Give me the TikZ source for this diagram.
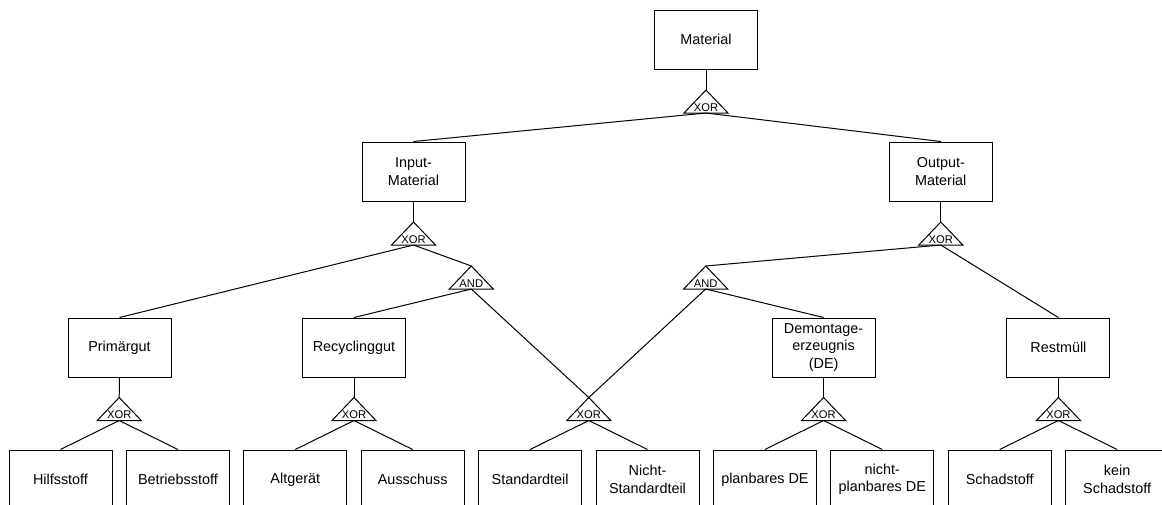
\documentclass[tikz,border=0pt]{standalone}
\usepackage{fontspec}
\setmainfont{Liberation Sans}
\tikzset{
  ln/.style={draw=black, line width=0.75pt, line join=miter},
  box/.style={draw=black, line width=0.75pt, minimum width=77.25pt, minimum height=44.25pt,
    inner sep=0pt, align=center, font=\fontsize{10.8}{13}\selectfont},
  gtxt/.style={anchor=base, inner sep=0pt, font=\fontsize{8.4}{10}\selectfont}
}
\newcommand\gate[4]{%
  \coordinate (#1t) at (#2,#3);
  \coordinate (#1b) at (#2,#3+23);
  \draw[ln] (#2,#3) -- (#2-22,#3+23) -- (#2+22,#3+23) -- cycle;
  \node[gtxt] (#1) at (#2,#3+21) {#4};
}
\begin{document}
\begin{tikzpicture}[x=0.75pt,y=-0.75pt]
\useasboundingbox (0,0) rectangle (1162,504);
\clip (0,0) rectangle (1162,504);
% boxes
\node[box] (mat) at (706,39.5) {Material};
\node[box] (inp) at (413.5,171.5) {Input-\\Material};
\node[box] (out) at (940.8,171.5) {Output-\\Material};
\node[box] (prim) at (119.5,347.5) {Primärgut};
\node[box] (rec) at (354,347.5) {Recyclinggut};
\node[box] (dem) at (823.6,347.5) {Demontage-\\erzeugnis\\(DE)};
\node[box] (rest) at (1058.4,347.5) {Restmüll};
\node[box] (b1) at (60.5,479.5) {Hilfsstoff};
\node[box] (b2) at (177.9,479.5) {Betriebsstoff};
\node[box] (b3) at (295.3,479.5) {Altgerät};
\node[box] (b4) at (412.7,479.5) {Ausschuss};
\node[box] (b5) at (530.1,479.5) {Standardteil};
\node[box] (b6) at (647.5,479.5) {Nicht-\\Standardteil};
\node[box] (b7) at (764.9,479.5) {planbares DE};
\node[box] (b8) at (882.3,479.5) {nicht-\\planbares DE};
\node[box] (b9) at (999.7,479.5) {Schadstoff};
\node[box] (b10) at (1117.1,479.5) {kein\\Schadstoff};
% gates
\gate{g0}{706}{90}{XOR}
\gate{gi}{413.5}{222}{XOR}
\gate{go}{940.8}{222}{XOR}
\gate{ai}{471.3}{266}{AND}
\gate{ao}{705.7}{266}{AND}
\gate{gp}{119.2}{397.5}{XOR}
\gate{gr}{354}{397.5}{XOR}
\gate{gs}{588.8}{397.5}{XOR}
\gate{gd}{823.6}{397.5}{XOR}
\gate{gm}{1058.4}{397.5}{XOR}
% connectors
\draw[ln] (mat.south) -- (g0t);
\draw[ln] (g0b) -- (inp.north);
\draw[ln] (g0b) -- (out.north);
\draw[ln] (inp.south) -- (git);
\draw[ln] (out.south) -- (got);
\draw[ln] (gib) -- (prim.north);
\draw[ln] (gib) -- (ait);
\draw[ln] (aib) -- (rec.north);
\draw[ln] (aib) -- (gst);
\draw[ln] (gob) -- (aot);
\draw[ln] (gob) -- (rest.north);
\draw[ln] (aob) -- (gst);
\draw[ln] (aob) -- (dem.north);
\draw[ln] (prim.south) -- (gpt);
\draw[ln] (rec.south) -- (grt);
\draw[ln] (dem.south) -- (gdt);
\draw[ln] (rest.south) -- (gmt);
\draw[ln] (gpb) -- (b1.north);
\draw[ln] (gpb) -- (b2.north);
\draw[ln] (grb) -- (b3.north);
\draw[ln] (grb) -- (b4.north);
\draw[ln] (gsb) -- (b5.north);
\draw[ln] (gsb) -- (b6.north);
\draw[ln] (gdb) -- (b7.north);
\draw[ln] (gdb) -- (b8.north);
\draw[ln] (gmb) -- (b9.north);
\draw[ln] (gmb) -- (b10.north);
\end{tikzpicture}
\end{document}
